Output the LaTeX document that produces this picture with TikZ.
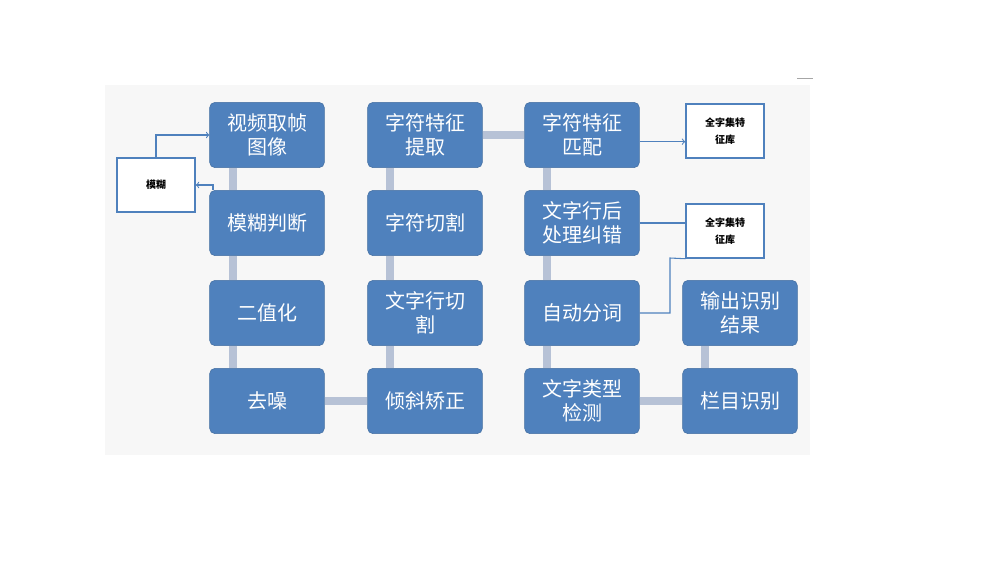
\documentclass[tikz,border=0pt]{standalone}
\usepackage{fontspec}
\setmainfont{Noto Sans CJK SC}
\usetikzlibrary{positioning}
\definecolor{boxblue}{HTML}{4F81BD}
\definecolor{bargray}{HTML}{B7C2D6}
\begin{document}
\begin{tikzpicture}[x=0.75pt,y=-0.75pt,
  proc/.style = {draw=boxblue!85!black, fill=boxblue, rounded corners=4pt, minimum width=86pt, minimum height=49pt, text=white, font=\fontsize{15}{18}\selectfont, align=center, inner sep=1pt},
  lib/.style = {draw=boxblue, line width=1.6pt, fill=white, minimum width=58pt, minimum height=40pt, font=\fontsize{7.5}{13}\selectfont\bfseries, align=center},
  bar/.style = {bargray, line width=6pt},
  link/.style = {draw=boxblue, line width=0.8pt}]
\useasboundingbox (0,0) rectangle (991,561);
\fill[gray!6] (105,85) rectangle (810,455);
\draw[gray!70] (797,78) -- (813,78);
% columns
\node[proc](frame) at (267,135) {视频取帧\\图像};
\node[proc](blur)  at (267,223) {模糊判断};
\node[proc](bin)   at (267,313) {二值化};
\node[proc](noise) at (267,401) {去噪};
\node[proc](feat)  at (425,135) {字符特征\\提取};
\node[proc](cut)   at (425,223) {字符切割};
\node[proc](line)  at (425,313) {文字行切\\割};
\node[proc](skew)  at (425,401) {倾斜矫正};
\node[proc](match) at (582,135) {字符特征\\匹配};
\node[proc](post)  at (582,223) {文字行后\\处理纠错};
\node[proc](seg)   at (582,313) {自动分词};
\node[proc](type)  at (582,401) {文字类型\\检测};
\node[proc](out)   at (740,313) {输出识别\\结果};
\node[proc](col)   at (740,401) {栏目识别};
\node[lib](blurbox) at (156,185) {模糊};
\node[lib](lib1) at (725,131) {全字集特\\征库};
\node[lib](lib2) at (725,231) {全字集特\\征库};
\coordinate (bend) at (670,258);
% bars
\foreach \a/\b/\x in {frame/blur/233,blur/bin/233,bin/noise/233,feat/cut/390,cut/line/390,line/skew/390,match/post/547,post/seg/547,seg/type/547,out/col/705}
  \draw[bar] (\x,0 |- \a.south) -- (\x,0 |- \b.north);
\draw[bar] (noise) -- (skew);
\draw[bar] (feat) -- (match);
\draw[bar] (type) -- (col);
% links
\draw[link,->] (blurbox.north) |- (frame.west);
\draw[link,->] (213,0 |- blur.north) |- (blurbox.east);
\draw[link,->] ([yshift=-5pt]match.east) -- ([yshift=-5pt]match.east -| lib1.west);
\draw[link] (post.east) -- (post.east -| lib2.west);
\draw[link] (seg.east) -| (bend) -- (lib2.south west);
\end{tikzpicture}
\end{document}
